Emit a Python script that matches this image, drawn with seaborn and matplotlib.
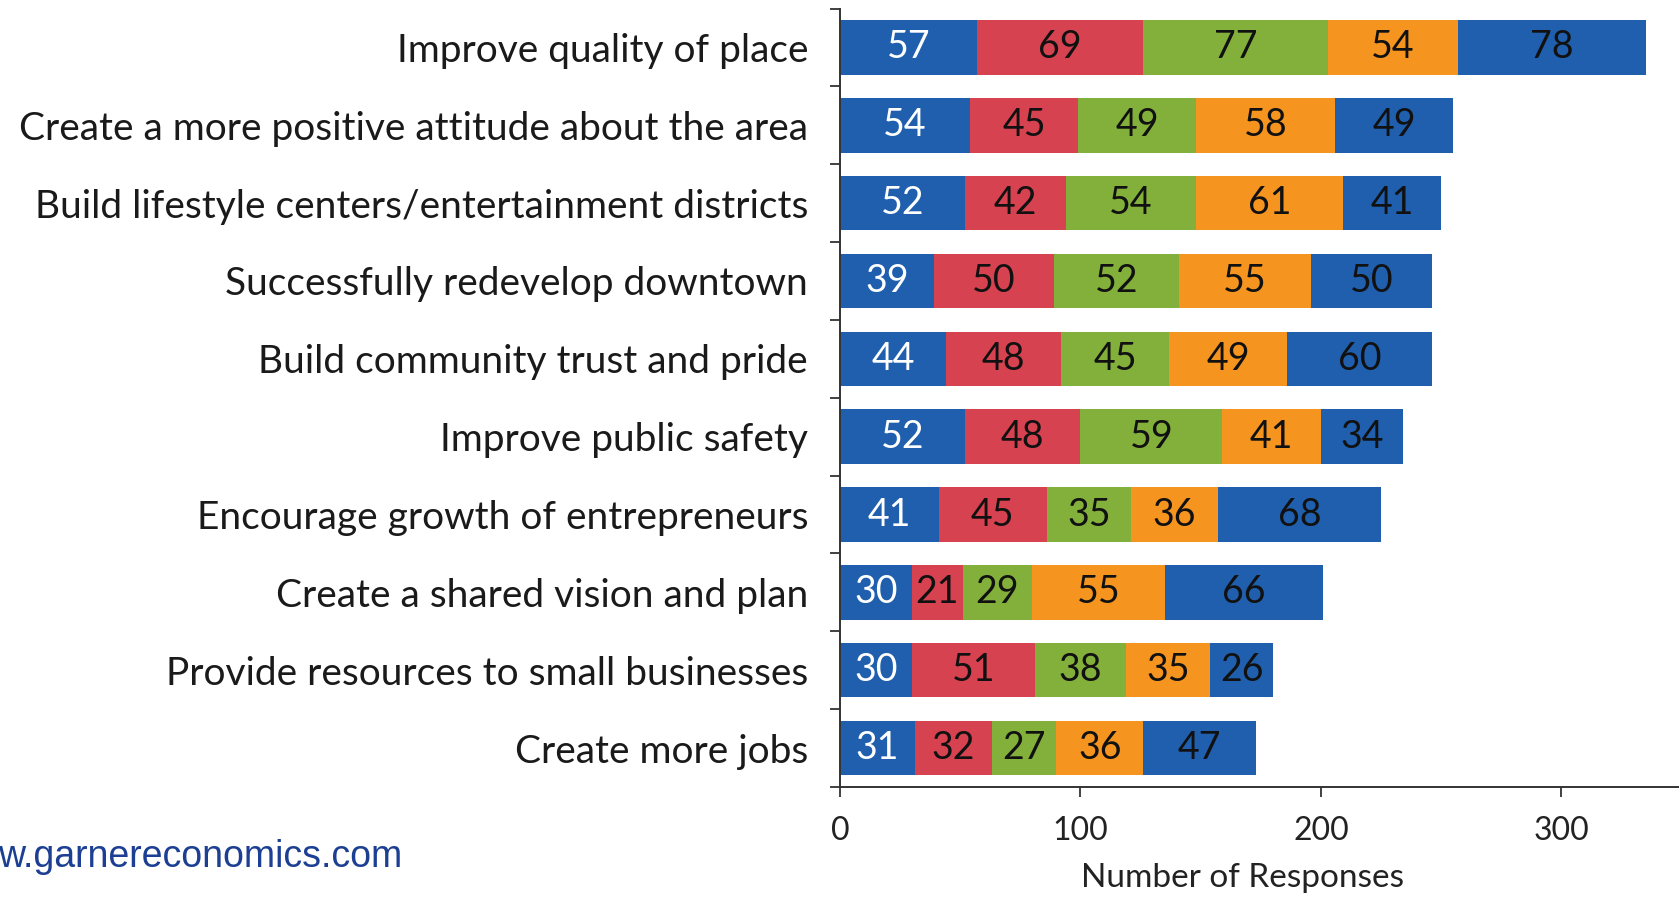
import matplotlib
matplotlib.use("Agg")
import matplotlib.pyplot as plt
import numpy as np
import pandas as pd
import seaborn as sns

# Goals, listed top to bottom
categories = [
    "Improve quality of place",
    "Create a more positive attitude about the area",
    "Build lifestyle centers/entertainment districts",
    "Successfully redevelop downtown",
    "Build community trust and pride",
    "Improve public safety",
    "Encourage growth of entrepreneurs",
    "Create a shared vision and plan",
    "Provide resources to small businesses",
    "Create more jobs",
]

# Responses per priority rank
rank_1 = [57, 54, 52, 39, 44, 52, 41, 30, 30, 31]
rank_2 = [69, 45, 42, 50, 48, 48, 45, 21, 51, 32]
rank_3 = [77, 49, 54, 52, 45, 59, 35, 29, 38, 27]
rank_4 = [54, 58, 61, 55, 49, 41, 36, 55, 35, 36]
rank_5 = [78, 49, 41, 50, 60, 34, 68, 66, 26, 47]

x_ticks = [0, 100, 200, 300]
x_label = "Number of Responses"
source = "w.garnereconomics.com"

ranks = [rank_1, rank_2, rank_3, rank_4, rank_5]
colors = ["#1f5fae", "#d6424f", "#82b03a", "#f5941f", "#1f5fae"]
text_colors = ["white", "#111111", "#111111", "#111111", "#111111"]

sns.set_theme(style="white")
plt.rcParams["font.family"] = ["Lato", "DejaVu Sans"]

fig = plt.figure(figsize=(16.79, 8.97), dpi=100)
ax = fig.add_axes([0.5003, 0.1226, 0.5013, 0.8679])

# Stacked bars: draw cumulative totals from the outermost segment inward
values = np.array(ranks, dtype=float)
cum = np.cumsum(values, axis=0)
for k in range(len(ranks) - 1, -1, -1):
    df = pd.DataFrame({"goal": categories, "total": cum[k]})
    sns.barplot(data=df, y="goal", x="total", orient="h", color=colors[k],
                saturation=1, width=0.7, linewidth=0, ax=ax)

# Segment value labels
for k in range(len(ranks)):
    left = cum[k] - values[k]
    for i, v in enumerate(values[k]):
        ax.text(left[i] + v / 2, i, f"{int(v)}", ha="center", va="center",
                fontsize=27, color=text_colors[k])

ax.set_xlim(0, 350)
ax.set_ylim(len(categories) - 0.5, -0.5)
ax.set_xticks(x_ticks)
ax.set_xticklabels([str(t) for t in x_ticks])
ax.set_ylabel("")
ax.set_xlabel(x_label, fontsize=24, color="#222222")
ax.xaxis.set_label_coords(0.478, -0.098)

# Category ticks sit between the bars
ax.set_yticks(np.arange(len(categories) + 1) - 0.5, minor=True)
ax.tick_params(axis="y", which="major", length=0, pad=23, labelsize=28,
               labelcolor="#1a1a1a")
ax.tick_params(axis="y", which="minor", left=True, length=7, width=1.3,
               color="#333333", direction="out")
ax.tick_params(axis="x", which="major", bottom=True, length=7, width=1.3,
               color="#333333", direction="out", pad=14, labelsize=23,
               labelcolor="#222222")

for side in ["top", "right"]:
    ax.spines[side].set_visible(False)
for side in ["left", "bottom"]:
    ax.spines[side].set_color("#333333")
    ax.spines[side].set_linewidth(1.4)

fig.text(402 / 1679, 1 - 857 / 897, source, ha="right", va="center",
         fontsize=27, color="#1c3f94", family=["Liberation Sans", "DejaVu Sans"])

fig.savefig("out.png", dpi=100, facecolor="white")
